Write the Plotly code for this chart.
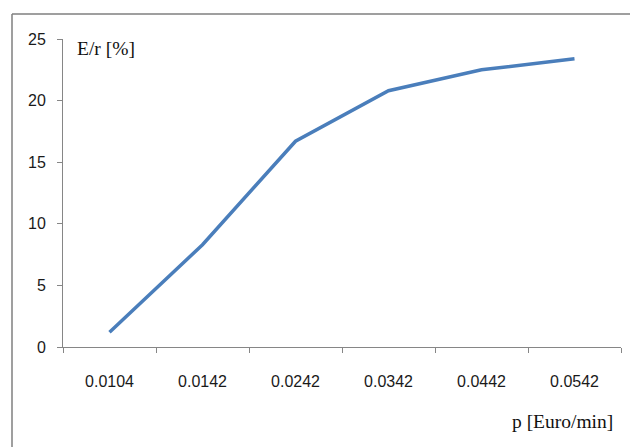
import plotly.graph_objects as go

categories = ["0.0104", "0.0142", "0.0242", "0.0342", "0.0442", "0.0542"]
values = [1.2, 8.3, 16.7, 20.8, 22.5, 23.4]
y_ticks = [0, 5, 10, 15, 20, 25]

# page body has an 8px margin, so the figure is drawn 8px in from the top-left
OFF = 8
W, H = 638 - OFF, 447 - OFF
L, R, T, B = 63 - OFF, 17, 39 - OFF, 100
pw, ph = W - L - R, H - T - B

def px(x):
    return (x - OFF - L) / pw

def py(y):
    return (H - B - (y - OFF)) / ph

axis_col = "#868686"
tick_font = dict(family="Liberation Sans, Arial, sans-serif", size=16, color="#1a1a1a")

fig = go.Figure()
fig.add_trace(go.Scatter(
    x=categories, y=values, mode="lines",
    line=dict(color="#4A7EBB", width=3.5),
    showlegend=False, hoverinfo="skip",
))

fig.update_layout(
    width=W, height=H,
    margin=dict(l=L, r=R, t=T, b=B, pad=0),
    paper_bgcolor="white", plot_bgcolor="white",
    xaxis=dict(
        type="category", tickson="boundaries",
        showgrid=False, zeroline=False,
        showline=True, linecolor=axis_col, linewidth=1,
        ticks="outside", ticklen=5, tickcolor=axis_col, tickwidth=1,
        tickfont=tick_font, ticklabelstandoff=20,
        range=[-0.5, 5.5],
    ),
    yaxis=dict(
        range=[0, 25], tickvals=y_ticks,
        showgrid=False, zeroline=False,
        showline=True, linecolor=axis_col, linewidth=1,
        ticks="outside", ticklen=5, tickcolor=axis_col, tickwidth=1,
        tickfont=tick_font, ticklabelstandoff=8,
    ),
    annotations=[
        dict(text="E/r [%]", xref="paper", yref="paper", x=px(106), y=py(48),
             xanchor="center", yanchor="middle", showarrow=False,
             font=dict(family="Liberation Serif, Times New Roman, serif", size=19.5, color="#111")),
        dict(text="p [Euro/min]", xref="paper", yref="paper", x=px(562), y=py(421),
             xanchor="center", yanchor="middle", showarrow=False,
             font=dict(family="Liberation Serif, Times New Roman, serif", size=19.5, color="#111")),
    ],
    shapes=[
        dict(type="line", xref="paper", yref="paper", x0=px(12), x1=px(650), y0=py(14), y1=py(14),
             line=dict(color="#7f7f7f", width=1.5)),
        dict(type="line", xref="paper", yref="paper", x0=px(12), x1=px(12), y0=py(14), y1=py(460),
             line=dict(color="#7f7f7f", width=1.5)),
    ],
)

fig.write_html("out.html")
